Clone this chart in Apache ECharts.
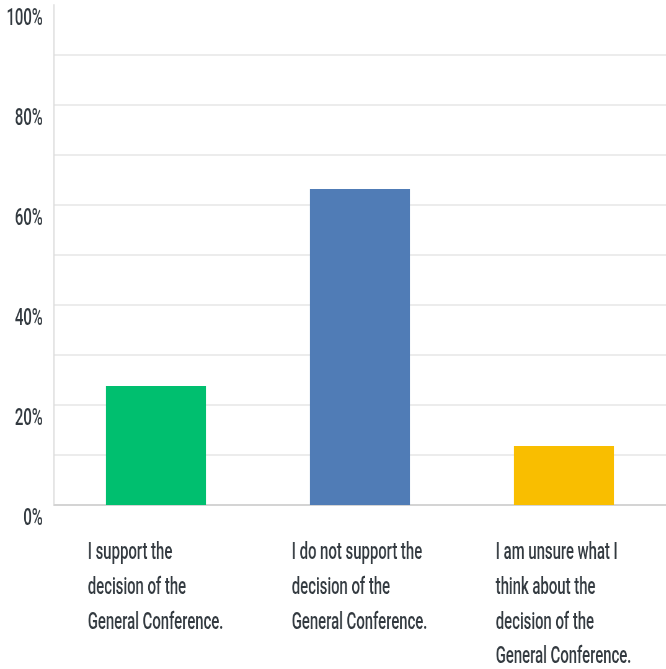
<!DOCTYPE html>
<html>
<head>
<meta charset="utf-8">
<script src="https://cdn.jsdelivr.net/npm/echarts@6/dist/echarts.min.js"></script>
<style>
html, body { margin: 0; padding: 0; overflow: hidden; background: #fff; width: 666px; height: 669px; }
#chart { position: absolute; left: 0; top: 0; width: 1074px; height: 669px; transform: scaleX(0.62); transform-origin: 0 0; }
</style>
</head>
<body>
<div id="chart"></div>
<script>
const categories = [
  "I support the\ndecision of the\nGeneral Conference.",
  "I do not support the\ndecision of the\nGeneral Conference.",
  "I am unsure what I\nthink about the\ndecision of the\nGeneral Conference."
];
const values = [23.8, 63.2, 11.8];
const barColors = ["#00bf6f", "#507cb6", "#f9be00"];
const yTicks = [0, 20, 40, 60, 80, 100];

const FONT = "Roboto, 'Noto Sans', sans-serif";
const chart = echarts.init(document.getElementById('chart'), null, { renderer: 'canvas' });
chart.setOption({
  animation: false,
  backgroundColor: '#ffffff',
  grid: { left: 87, right: 0, top: 5, bottom: 164, containLabel: false, outerBoundsMode: 'none' },
  xAxis: {
    type: 'category',
    data: categories,
    axisTick: { show: false },
    axisLine: { show: true, lineStyle: { color: '#d4d4d4', width: 2 } },
    axisLabel: {
      interval: 0,
      margin: 31,
      align: 'center',
      formatter: function (v) {
        return v.split('\n').map(function (l) { return '{a|' + l + '}'; }).join('\n');
      },
      rich: {
        a: { width: 220, align: 'left', fontSize: 24, fontWeight: 500, lineHeight: 34.7, color: '#333a40', fontFamily: FONT }
      }
    }
  },
  yAxis: {
    type: 'value',
    min: 0,
    max: 100,
    interval: 10,
    axisLine: { show: true, lineStyle: { color: '#dddddd', width: 2 } },
    axisTick: { show: false },
    splitLine: { show: true, showMaxLine: false, lineStyle: { color: '#ececec', width: 2 } },
    axisLabel: {
      margin: 18,
      fontSize: 24,
      fontWeight: 500,
      lineHeight: 24,
      padding: [2, 0, 0, 0],
      verticalAlign: 'top',
      color: '#333a40',
      fontFamily: FONT,
      formatter: function (v) { return yTicks.indexOf(v) >= 0 ? v + '%' : ''; }
    }
  },
  series: [{
    type: 'bar',
    barWidth: '49%',
    data: values.map(function (v, i) { return { value: v, itemStyle: { color: barColors[i] } }; })
  }]
});
</script>
</body>
</html>
